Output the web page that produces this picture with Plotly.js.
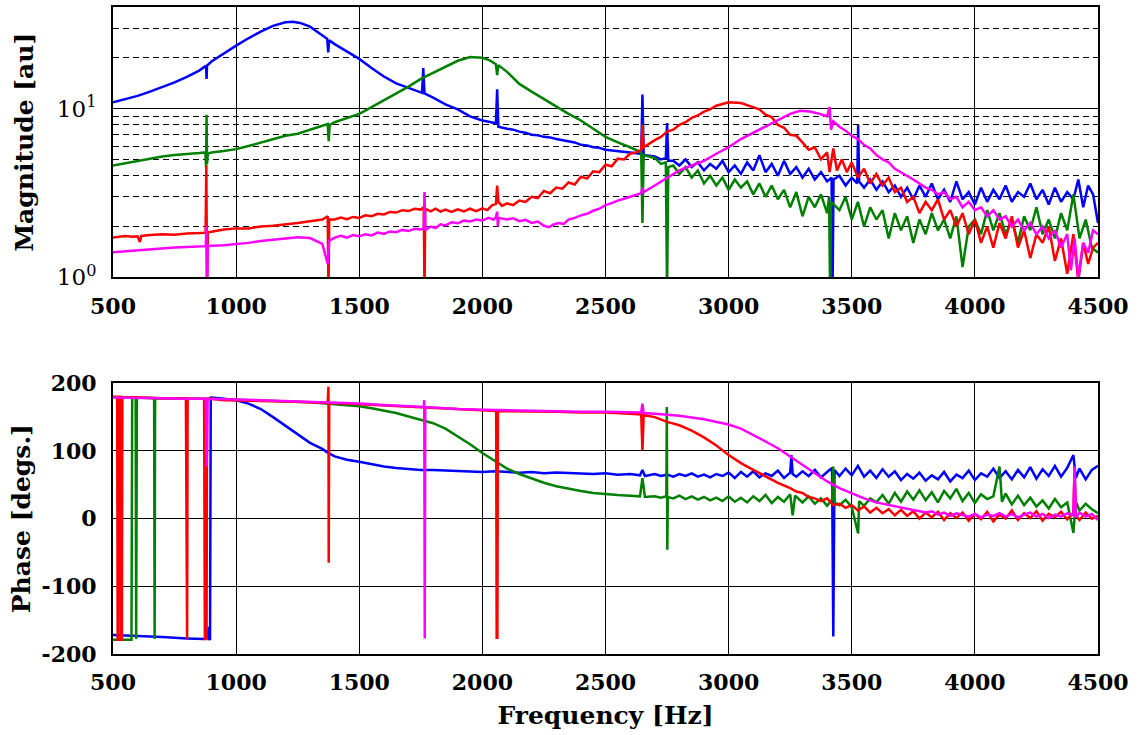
<!DOCTYPE html>
<html>
<head>
<meta charset="utf-8">
<script src="https://cdn.plot.ly/plotly-3.0.1.min.js"></script>
<style>html,body{margin:0;padding:0;background:#fff;}#chart{width:1144px;height:735px;}</style>
</head>
<body>
<div id="chart"></div>
<script>
// ---------------- DATA (frequency [Hz], value) ----------------
const xTickVals = [500, 1000, 1500, 2000, 2500, 3000, 3500, 4000, 4500];
const magTickVals = [1, 10];
const magTickText = ['10<sup>0</sup>', '10<sup>1</sup>'];
const magMinorVals = [2, 3, 4, 5, 6, 7, 8, 9, 20, 30];
const phaseTickVals = [-200, -100, 0, 100, 200];
const phaseTickText = ['-200', '-100', '0', '100', '200'];

const magBlue = [[500,10.9],[550,11.4],[600,11.9],[650,12.6],[700,13.4],[750,14.3],[800,15.4],[850,16.8],[870,17.6],[878,17.9],[880,15.0],[882,18.0],[900,19.0],[950,21.3],[1000,23.6],[1050,26.1],[1100,28.6],[1150,30.9],[1200,32.5],[1230,32.7],[1260,32.2],[1300,30.6],[1340,28.0],[1370,25.9],[1374,21.5],[1378,25.4],[1400,24.1],[1450,21.8],[1500,19.7],[1550,17.4],[1600,15.5],[1650,14.1],[1700,13.2],[1755,12.4],[1760,17.4],[1765,12.3],[1800,11.6],[1850,10.6],[1900,9.9],[1950,9.0],[2000,8.5],[2055,8.2],[2060,13.0],[2065,7.8],[2100,7.6],[2125,7.5],[2150,7.3],[2175,7.2],[2200,7.0],[2225,6.95],[2250,6.8],[2275,6.75],[2300,6.6],[2325,6.5],[2350,6.4],[2375,6.3],[2400,6.1],[2425,6.05],[2450,5.9],[2475,5.85],[2500,5.7],[2525,5.65],[2550,5.6],[2575,5.5],[2600,5.5],[2645,5.4],[2650,12.1],[2655,5.3],[2700,5.2],[2725,5.0],[2745,5.1],[2750,8.2],[2755,4.9],[2775,4.9],[2800,4.6],[2825,5.0],[2850,4.5],[2875,4.8],[2900,4.3],[2925,4.7],[2950,4.4],[2975,4.9],[3000,4.2],[3025,4.6],[3050,4.1],[3075,4.8],[3100,4.3],[3125,5.3],[3150,4.2],[3175,4.7],[3200,4.0],[3225,4.9],[3250,4.1],[3275,4.5],[3300,3.9],[3325,4.4],[3350,3.8],[3375,4.2],[3400,3.7],[3418,3.9],[3422,0.8],[3426,3.8],[3450,4.0],[3475,3.5],[3500,3.9],[3522,3.6],[3526,8.0],[3530,3.7],[3550,3.4],[3575,3.8],[3600,3.3],[3625,3.7],[3650,3.2],[3675,3.5],[3700,3.0],[3725,3.4],[3750,2.9],[3775,3.5],[3800,3.0],[3825,3.6],[3850,2.9],[3875,3.3],[3900,2.8],[3925,3.7],[3950,2.9],[3975,3.2],[4000,2.7],[4025,3.4],[4050,2.8],[4075,3.3],[4100,2.9],[4125,3.5],[4150,2.8],[4175,3.2],[4200,3.0],[4225,3.6],[4250,2.9],[4275,3.3],[4300,2.7],[4325,3.4],[4350,2.8],[4375,3.2],[4400,2.9],[4420,3.8],[4440,2.6],[4460,3.5],[4480,3.1],[4500,2.1]];

const magGreen = [[500,4.6],[550,4.75],[600,4.9],[650,5.05],[700,5.2],[750,5.3],[800,5.35],[850,5.45],[875,5.5],[878,4.5],[880,9.2],[882,4.7],[885,5.4],[900,5.5],[950,5.6],[1000,5.75],[1050,6.0],[1100,6.3],[1150,6.6],[1200,6.9],[1250,7.1],[1300,7.5],[1350,7.9],[1372,8.1],[1376,6.4],[1380,8.0],[1400,8.3],[1450,8.8],[1500,9.3],[1550,10.2],[1600,11.2],[1650,12.2],[1700,13.5],[1750,15.0],[1800,16.3],[1850,17.7],[1900,19.2],[1950,20.2],[2000,20.0],[2030,19.3],[2055,18.3],[2060,15.8],[2065,18.1],[2100,16.5],[2150,14.0],[2200,12.6],[2250,11.4],[2300,10.2],[2350,9.3],[2400,8.5],[2450,7.6],[2500,6.8],[2550,6.3],[2600,5.9],[2645,5.5],[2650,2.1],[2655,5.3],[2700,5.1],[2725,4.7],[2745,4.8],[2750,0.8],[2755,4.5],[2775,4.6],[2800,4.1],[2825,4.5],[2850,3.9],[2875,4.3],[2900,3.6],[2925,4.0],[2950,3.5],[2975,3.9],[3000,3.3],[3025,3.8],[3050,3.4],[3075,3.7],[3100,3.1],[3125,3.6],[3150,3.0],[3175,3.5],[3200,2.9],[3225,3.3],[3250,2.6],[3275,3.2],[3300,2.3],[3325,3.0],[3350,2.6],[3375,3.1],[3400,2.4],[3408,3.0],[3412,0.8],[3416,2.8],[3450,2.5],[3475,3.0],[3500,2.2],[3525,2.8],[3550,2.0],[3575,2.6],[3600,2.2],[3625,2.5],[3650,1.7],[3675,2.4],[3700,1.9],[3725,2.3],[3750,1.6],[3775,2.2],[3800,1.8],[3825,2.4],[3850,1.9],[3875,2.2],[3900,1.7],[3925,2.3],[3950,1.15],[3975,2.0],[4000,2.2],[4025,1.8],[4050,2.5],[4075,1.9],[4100,2.4],[4125,1.8],[4150,2.2],[4175,1.6],[4200,2.3],[4225,1.9],[4250,2.6],[4275,1.8],[4300,2.2],[4325,1.7],[4350,2.4],[4375,1.9],[4400,3.1],[4425,1.7],[4450,2.2],[4475,1.5],[4500,1.4]];

const magRed = [[500,1.72],[550,1.76],[580,1.74],[600,1.75],[609,1.62],[615,1.76],[650,1.78],[700,1.8],[750,1.79],[800,1.82],[850,1.83],[876,1.84],[879,4.6],[882,0.8],[885,1.85],[900,1.86],[950,1.92],[1000,1.95],[1050,1.95],[1100,2.0],[1150,2.02],[1200,2.05],[1250,2.1],[1300,2.15],[1350,2.2],[1372,2.3],[1375,0.8],[1378,2.2],[1400,2.2],[1425,2.26],[1450,2.21],[1475,2.28],[1500,2.25],[1525,2.33],[1550,2.3],[1575,2.38],[1600,2.36],[1625,2.44],[1650,2.42],[1675,2.5],[1700,2.47],[1725,2.55],[1750,2.52],[1762,2.6],[1765,0.8],[1768,2.55],[1790,2.46],[1810,2.55],[1830,2.45],[1850,2.52],[1875,2.44],[1900,2.53],[1925,2.46],[1950,2.55],[1975,2.47],[2000,2.56],[2020,2.5],[2040,2.68],[2055,2.72],[2060,3.5],[2065,2.8],[2080,2.65],[2100,2.74],[2125,2.68],[2150,2.85],[2175,2.8],[2200,3.0],[2225,2.95],[2250,3.25],[2275,3.15],[2300,3.4],[2325,3.35],[2350,3.65],[2375,3.55],[2400,3.95],[2425,3.85],[2450,4.25],[2475,4.2],[2500,4.65],[2525,4.55],[2550,5.05],[2575,5.0],[2600,5.4],[2625,5.5],[2645,5.7],[2650,8.0],[2655,5.9],[2700,6.5],[2725,6.8],[2750,7.3],[2775,7.5],[2800,8.0],[2825,8.3],[2850,8.8],[2875,9.1],[2900,9.6],[2925,9.9],[2950,10.4],[3000,10.9],[3050,10.8],[3100,10.2],[3125,9.9],[3150,9.2],[3175,8.9],[3200,8.0],[3225,7.7],[3250,7.0],[3275,6.9],[3300,6.3],[3325,5.7],[3350,5.9],[3375,5.0],[3400,5.5],[3410,4.2],[3425,5.8],[3440,4.3],[3460,5.0],[3480,4.2],[3500,4.8],[3525,3.9],[3550,4.4],[3575,3.6],[3600,4.1],[3625,3.5],[3650,3.9],[3675,3.2],[3700,3.4],[3725,2.8],[3750,3.0],[3775,2.4],[3800,2.8],[3825,2.5],[3850,2.9],[3875,2.2],[3900,2.5],[3925,2.0],[3950,2.4],[3975,1.8],[4000,2.2],[4025,1.6],[4050,2.0],[4075,1.5],[4100,2.1],[4125,1.7],[4150,2.3],[4175,1.5],[4200,1.9],[4225,1.3],[4250,1.8],[4275,1.6],[4300,2.0],[4325,1.25],[4350,1.7],[4375,1.05],[4400,1.8],[4420,0.95],[4440,1.6],[4460,1.2],[4480,1.5],[4500,1.6]];

const magMagenta = [[500,1.41],[550,1.43],[600,1.45],[650,1.47],[700,1.49],[750,1.5],[800,1.51],[850,1.52],[877,1.53],[879,2.0],[882,0.8],[885,1.53],[900,1.54],[950,1.55],[1000,1.57],[1050,1.6],[1100,1.64],[1150,1.67],[1200,1.7],[1250,1.73],[1300,1.71],[1350,1.58],[1372,1.2],[1378,1.65],[1400,1.72],[1425,1.76],[1450,1.72],[1475,1.78],[1500,1.75],[1525,1.8],[1550,1.77],[1575,1.84],[1600,1.81],[1625,1.87],[1650,1.85],[1675,1.91],[1700,1.88],[1725,1.94],[1750,1.92],[1762,1.95],[1765,3.2],[1768,1.9],[1790,2.0],[1810,1.96],[1830,2.06],[1850,2.03],[1875,2.12],[1900,2.09],[1925,2.17],[1950,2.14],[1975,2.2],[2000,2.17],[2025,2.25],[2045,2.2],[2055,2.27],[2060,2.45],[2063,2.0],[2066,2.25],[2100,2.2],[2125,2.24],[2150,2.15],[2175,2.19],[2200,2.1],[2225,2.14],[2250,2.02],[2270,1.98],[2290,2.06],[2310,2.1],[2330,2.07],[2350,2.2],[2375,2.25],[2400,2.33],[2425,2.38],[2450,2.48],[2475,2.55],[2500,2.68],[2525,2.75],[2550,2.85],[2575,2.92],[2600,3.0],[2645,3.15],[2650,3.4],[2655,3.2],[2700,3.5],[2750,3.9],[2800,4.3],[2850,4.6],[2900,4.9],[2950,5.4],[3000,5.9],[3050,6.6],[3100,7.2],[3150,7.8],[3200,8.5],[3250,9.3],[3290,9.7],[3330,9.6],[3370,9.3],[3400,9.0],[3410,10.2],[3416,7.5],[3425,8.4],[3450,7.8],[3475,7.4],[3500,6.9],[3525,6.6],[3550,6.1],[3575,5.8],[3600,5.3],[3625,5.0],[3650,4.8],[3675,4.4],[3700,4.2],[3725,4.0],[3750,3.8],[3775,3.6],[3800,3.4],[3825,3.3],[3850,3.1],[3875,3.2],[3900,2.9],[3925,3.0],[3950,2.6],[3975,2.8],[4000,2.5],[4025,2.6],[4050,2.3],[4075,2.5],[4100,2.2],[4125,2.3],[4150,2.0],[4175,2.2],[4200,1.9],[4225,2.1],[4250,1.8],[4275,2.0],[4300,1.7],[4325,1.9],[4350,1.5],[4375,1.8],[4390,1.1],[4405,1.7],[4420,1.0],[4440,1.6],[4460,1.4],[4480,1.9],[4500,1.8]];

const phaseBlue = [[500,-172],[600,-173],[700,-175],[800,-177],[870,-178],[885,-176],[889,-160],[891,-178],[894,-179],[897,180],[900,179],[950,177],[1000,175],[1050,170],[1100,162],[1150,150],[1200,137],[1250,124],[1300,112],[1350,103],[1370,98],[1400,92],[1450,87],[1500,84],[1550,80],[1600,77],[1650,75],[1700,73],[1750,72],[1800,72],[1850,71],[1900,70],[1950,70],[2000,69],[2050,70],[2100,69],[2150,68],[2200,69],[2250,67],[2300,68],[2350,67],[2400,67],[2450,66],[2500,67],[2550,65],[2600,66],[2640,64],[2650,72],[2660,63],[2700,66],[2725,63],[2750,65],[2775,62],[2800,66],[2825,63],[2850,67],[2875,62],[2900,65],[2925,61],[2950,66],[2975,63],[3000,68],[3025,60],[3050,69],[3075,62],[3100,70],[3125,61],[3150,67],[3175,63],[3200,71],[3225,60],[3250,68],[3255,94],[3260,66],[3275,62],[3300,70],[3325,63],[3350,72],[3375,61],[3400,69],[3420,75],[3425,-174],[3430,72],[3450,63],[3475,74],[3500,64],[3525,78],[3550,62],[3575,71],[3600,60],[3625,73],[3650,62],[3675,70],[3700,57],[3725,66],[3750,59],[3775,68],[3800,56],[3825,64],[3850,58],[3875,69],[3900,55],[3925,65],[3950,60],[3975,71],[4000,57],[4025,67],[4050,62],[4075,74],[4100,60],[4125,70],[4150,58],[4175,72],[4200,61],[4225,76],[4250,59],[4275,73],[4300,63],[4325,78],[4350,62],[4375,75],[4400,94],[4410,60],[4425,74],[4450,58],[4475,72],[4500,78]];

const phaseGreen = [[500,-179],[575,-179],[578,179],[592,179],[594,-178],[597,179],[667,178],[669,-178],[671,178],[700,178],[800,177],[878,177],[880,170],[882,177],[900,177],[1000,176],[1100,175],[1200,174],[1300,172],[1400,169],[1500,166],[1550,163],[1600,160],[1650,156],[1700,151],[1750,146],[1800,141],[1850,133],[1900,122],[1950,110],[2000,97],[2050,85],[2100,74],[2150,66],[2200,59],[2250,53],[2300,48],[2350,44],[2400,41],[2450,38],[2500,36],[2550,35],[2600,34],[2640,33],[2650,60],[2660,32],[2700,33],[2725,31],[2747,33],[2749,165],[2751,-46],[2753,32],[2775,30],[2800,34],[2825,29],[2850,33],[2875,28],[2900,32],[2925,27],[2950,31],[2975,26],[3000,33],[3025,25],[3050,31],[3075,24],[3100,33],[3125,26],[3150,35],[3175,23],[3200,32],[3225,25],[3250,36],[3260,5],[3270,34],[3300,24],[3325,33],[3350,22],[3375,30],[3400,19],[3420,28],[3425,77],[3430,24],[3450,20],[3475,28],[3500,17],[3526,-22],[3530,26],[3550,19],[3575,30],[3600,24],[3625,35],[3650,22],[3675,38],[3700,25],[3725,40],[3750,28],[3775,42],[3800,27],[3825,39],[3850,24],[3875,41],[3900,30],[3925,44],[3950,26],[3975,38],[4000,23],[4025,36],[4050,29],[4075,33],[4100,77],[4110,25],[4125,37],[4150,21],[4175,34],[4200,20],[4225,31],[4250,18],[4275,27],[4300,15],[4325,29],[4350,17],[4375,24],[4400,-21],[4410,25],[4425,12],[4450,22],[4475,14],[4500,8]];

const phaseRed = [[500,180],[517,180],[519,-179],[522,-179],[524,180],[531,180],[533,-179],[536,-179],[538,180],[600,179],[700,178],[796,178],[798,-178],[801,-178],[803,177],[870,177],[873,-178],[880,-178],[882,177],[900,177],[950,175],[1000,175],[1100,174],[1200,173],[1300,172],[1372,171],[1375,195],[1376,-65],[1378,170],[1400,171],[1500,169],[1600,167],[1700,165],[1800,163],[1900,161],[2000,160],[2056,159],[2058,-176],[2061,-176],[2063,159],[2100,159],[2200,158],[2300,158],[2400,157],[2500,157],[2600,155],[2645,154],[2650,101],[2655,153],[2700,150],[2750,143],[2800,138],[2850,130],[2900,120],[2950,108],[3000,94],[3050,82],[3100,72],[3150,62],[3200,53],[3250,45],[3275,40],[3300,38],[3325,32],[3350,30],[3375,26],[3400,30],[3425,20],[3450,22],[3475,16],[3500,20],[3525,12],[3550,18],[3575,9],[3600,16],[3625,8],[3650,14],[3675,5],[3700,13],[3725,4],[3750,11],[3775,0],[3800,9],[3825,2],[3850,10],[3875,-2],[3900,8],[3925,1],[3950,9],[3975,-3],[4000,7],[4025,-1],[4050,10],[4075,-4],[4100,6],[4125,0],[4150,12],[4175,-2],[4200,8],[4225,1],[4250,11],[4275,-3],[4300,7],[4325,2],[4350,10],[4375,-1],[4400,9],[4405,77],[4410,5],[4425,-2],[4450,9],[4475,0],[4500,4]];

const phaseMagenta = [[500,179],[600,178],[700,178],[800,177],[877,177],[879,90],[881,77],[884,177],[900,177],[1000,176],[1100,175],[1200,174],[1300,173],[1400,171],[1500,170],[1600,168],[1700,166],[1762,165],[1764,175],[1766,-177],[1768,165],[1800,164],[1900,162],[2000,161],[2100,160],[2200,159],[2300,159],[2400,158],[2500,158],[2600,157],[2645,157],[2650,170],[2655,156],[2700,155],[2800,152],[2900,147],[3000,139],[3050,133],[3100,124],[3150,114],[3200,104],[3250,92],[3300,79],[3350,67],[3400,55],[3450,45],[3500,37],[3550,30],[3600,24],[3650,20],[3700,16],[3725,14],[3750,12],[3775,10],[3800,9],[3825,11],[3850,6],[3875,9],[3900,4],[3925,8],[3950,5],[3975,3],[4000,7],[4025,2],[4050,6],[4075,4],[4100,8],[4125,3],[4150,7],[4175,2],[4200,6],[4225,9],[4250,3],[4275,7],[4300,1],[4325,6],[4350,3],[4375,8],[4400,5],[4405,77],[4410,2],[4425,9],[4450,3],[4475,7],[4500,-2]];

// ---------------- CHART ----------------
const colors = {blue: '#0000ff', green: '#008000', red: '#ff0000', magenta: '#ff00ff'};
function tr(pairs, color, xa, ya) {
  return {x: pairs.map(p => p[0]), y: pairs.map(p => p[1]), type: 'scatter', mode: 'lines',
          line: {color: color, width: 2.5}, xaxis: xa, yaxis: ya, hoverinfo: 'skip'};
}
const data = [
  tr(magBlue, colors.blue, 'x', 'y'),
  tr(magGreen, colors.green, 'x', 'y'),
  tr(magRed, colors.red, 'x', 'y'),
  tr(magMagenta, colors.magenta, 'x', 'y'),
  tr(phaseBlue, colors.blue, 'x2', 'y2'),
  tr(phaseGreen, colors.green, 'x2', 'y2'),
  tr(phaseRed, colors.red, 'x2', 'y2'),
  tr(phaseMagenta, colors.magenta, 'x2', 'y2')
];

const FONT = 'DejaVu Serif';
const tickFont = {family: FONT, size: 22, color: '#000', weight: 'bold'};
const logTickFont = {family: FONT, size: 23, color: '#000', weight: 'normal'};
const titleFont = {family: FONT, size: 25, color: '#000', weight: 'bold'};
const xCommon = {
  range: [500, 4500], tickmode: 'array', tickvals: xTickVals,
  showgrid: true, gridcolor: '#000', gridwidth: 1, zeroline: false,
  showline: true, linecolor: '#000', linewidth: 2, mirror: true, ticks: '',
  tickfont: tickFont, ticklabelstandoff: 8
};
const layout = {
  width: 1144, height: 735,
  margin: {l: 113, r: 46, t: 7, b: 81},
  paper_bgcolor: '#fff', plot_bgcolor: '#fff',
  showlegend: false,
  font: {family: FONT, size: 22, color: '#000', weight: 'bold'},
  xaxis: Object.assign({}, xCommon, {anchor: 'y', domain: [0, 1]}),
  yaxis: {
    type: 'log', range: [0, Math.log10(40)], domain: [0.5822, 1], anchor: 'x',
    tickmode: 'array', tickvals: magTickVals, ticktext: magTickText,
    showgrid: true, gridcolor: '#000', gridwidth: 1, zeroline: false,
    showline: true, linecolor: '#000', linewidth: 2, mirror: true, ticks: '',
    minor: {tickmode: 'array', tickvals: magMinorVals, showgrid: true, gridcolor: '#000', gridwidth: 1, griddash: '6px,4px', ticks: ''},
    tickfont: logTickFont, ticklabelstandoff: 10,
    title: {text: 'Magnitude [au]', font: titleFont, standoff: 16}
  },
  xaxis2: Object.assign({}, xCommon, {anchor: 'y2', domain: [0, 1],
    title: {text: 'Frequency [Hz]', font: titleFont, standoff: 12}}),
  yaxis2: {
    range: [-200, 200], domain: [0, 0.4184], anchor: 'x2',
    tickmode: 'array', tickvals: phaseTickVals, ticktext: phaseTickText,
    showgrid: true, gridcolor: '#000', gridwidth: 1, zeroline: false,
    showline: true, linecolor: '#000', linewidth: 2, mirror: true, ticks: '',
    tickfont: tickFont, ticklabelstandoff: 10,
    title: {text: 'Phase [degs.]', font: titleFont, standoff: 4}
  }
};
Plotly.newPlot('chart', data, layout, {staticPlot: true, displayModeBar: false});
</script>
</body>
</html>
